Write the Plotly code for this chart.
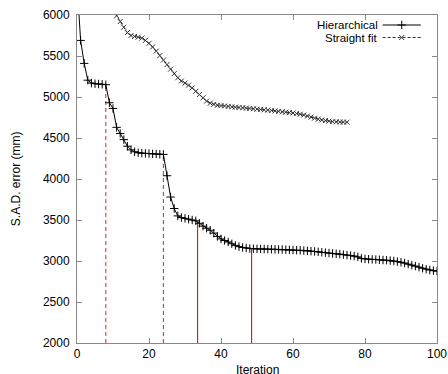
import plotly.graph_objects as go

# ---- data ----
hier_x = list(range(0, 101))
hier_y = [6400, 5690, 5410, 5205, 5170, 5162, 5158, 5155, 5150, 4930,
          4860, 4630, 4555, 4480, 4400, 4355, 4332, 4320, 4315, 4312,
          4310, 4307, 4305, 4302, 4300, 4040, 3780, 3640, 3550, 3530,
          3520, 3510, 3500, 3490, 3460, 3425, 3400, 3375, 3340, 3300,
          3270, 3250, 3232, 3210, 3190, 3175, 3165, 3158, 3152, 3150,
          3148, 3147, 3146, 3145, 3144, 3143, 3141, 3140, 3138, 3136,
          3134, 3132, 3130, 3127, 3124, 3120, 3116, 3112, 3107, 3102,
          3097, 3092, 3088, 3084, 3078, 3072, 3066, 3060, 3050, 3032,
          3025, 3022, 3020, 3018, 3015, 3012, 3010, 3005, 3000, 2992,
          2985, 2975, 2962, 2950, 2938, 2925, 2912, 2900, 2890, 2882,
          2877]

straight_x = list(range(10, 76))
straight_y = [6070, 5990, 5920, 5850, 5785, 5750, 5738, 5730, 5718, 5690,
              5655, 5610, 5560, 5505, 5450, 5395, 5340, 5285, 5235, 5195,
              5170, 5145, 5110, 5070, 5030, 4990, 4950, 4925, 4910, 4900,
              4895, 4890, 4885, 4880, 4876, 4872, 4868, 4864, 4860, 4856,
              4852, 4848, 4844, 4840, 4836, 4830, 4825, 4820, 4815, 4810,
              4805, 4798, 4790, 4780, 4768, 4755, 4742, 4730, 4720, 4712,
              4706, 4700, 4697, 4695, 4694, 4693]

# level-change markers (vertical lines from the axis floor up to the curve)
vline_x = [8, 24, 33.5, 48.5]
vline_top = [5150, 4300, 3485, 3150]
vline_dash = ["dash", "dash", "solid", "solid"]

x_ticks = [0, 20, 40, 60, 80, 100]
y_ticks = [2000, 2500, 3000, 3500, 4000, 4500, 5000, 5500, 6000]

series_names = ["Hierarchical", "Straight fit"]

FONT = "Liberation Sans, Arial, sans-serif"

fig = go.Figure()

# vertical red lines
for vx, vt, vd in zip(vline_x, vline_top, vline_dash):
    fig.add_trace(go.Scatter(
        x=[vx, vx], y=[y_ticks[0], vt], mode="lines",
        line=dict(color="#f03030" if vd == "dash" else "#c81818", width=1.1,
                  dash="4px,3px" if vd == "dash" else "solid"),
        showlegend=False, hoverinfo="skip"))

fig.add_trace(go.Scatter(
    x=hier_x, y=hier_y, mode="lines+markers", name=series_names[0],
    line=dict(color="black", width=1),
    marker=dict(symbol="cross-thin", size=6, line=dict(color="black", width=1)),
    showlegend=False, cliponaxis=True))

fig.add_trace(go.Scatter(
    x=straight_x, y=straight_y, mode="lines+markers", name=series_names[1],
    line=dict(color="#222222", width=1, dash="3px,2px"),
    marker=dict(symbol="x-thin", size=5, line=dict(color="#333333", width=1)),
    showlegend=False, cliponaxis=True))

# manual legend (text left, sample right, gnuplot style) on an overlay axis
leg_rows = [0.9695, 0.9314]
leg_x0, leg_x1 = 0.849, 0.955
fig.add_trace(go.Scatter(
    x=[leg_x0, leg_x1], y=[leg_rows[0]] * 2, mode="lines", xaxis="x2", yaxis="y2",
    line=dict(color="black", width=1), showlegend=False, hoverinfo="skip"))
fig.add_trace(go.Scatter(
    x=[(leg_x0 + leg_x1) / 2], y=[leg_rows[0]], mode="markers", xaxis="x2", yaxis="y2",
    marker=dict(symbol="cross-thin", size=6, line=dict(color="black", width=1)),
    showlegend=False, hoverinfo="skip"))
fig.add_trace(go.Scatter(
    x=[leg_x0, leg_x1], y=[leg_rows[1]] * 2, mode="lines", xaxis="x2", yaxis="y2",
    line=dict(color="#333333", width=1, dash="3px,2px"), showlegend=False, hoverinfo="skip"))
fig.add_trace(go.Scatter(
    x=[(leg_x0 + leg_x1) / 2], y=[leg_rows[1]], mode="markers", xaxis="x2", yaxis="y2",
    marker=dict(symbol="x-thin", size=5, line=dict(color="#333333", width=1)),
    showlegend=False, hoverinfo="skip"))

annotations = []
for name, ry in zip(series_names, leg_rows):
    annotations.append(dict(xref="paper", yref="paper", x=leg_x0 - 0.01, y=ry,
                            text=name, showarrow=False, xanchor="right", yanchor="middle",
                            borderpad=0,
                            font=dict(family=FONT, size=11.5, color="black")))
annotations.append(dict(xref="paper", yref="paper", x=0.5, y=-0.083, text="Iteration",
                        showarrow=False, xanchor="center", yanchor="middle",
                        font=dict(family=FONT, size=12, color="black")))
annotations.append(dict(xref="paper", yref="paper", x=-0.169, y=0.5, text="S.A.D. error (mm)",
                        textangle=-90, showarrow=False, xanchor="center", yanchor="middle",
                        font=dict(family=FONT, size=12, color="black")))

axis_common = dict(showgrid=False, zeroline=False, showline=True, linecolor="#888888",
                   linewidth=1, mirror="ticks", ticks="inside", ticklen=5, tickwidth=1,
                   tickcolor="#888888", tickfont=dict(family=FONT, size=12, color="black"),
                   automargin=False)

fig.update_layout(
    width=448, height=374, autosize=False,
    margin=dict(l=77, r=11, t=15, b=31),
    paper_bgcolor="white", plot_bgcolor="white",
    xaxis=dict(range=[0, 100], tickvals=x_ticks, **axis_common),
    yaxis=dict(range=[2000, 6000], tickvals=y_ticks, ticklabelstandoff=4, **axis_common),
    xaxis2=dict(range=[0, 1], overlaying="x", visible=False, fixedrange=True),
    yaxis2=dict(range=[0, 1], overlaying="y", visible=False, fixedrange=True),
    annotations=annotations,
    showlegend=False,
)

# remove the default 8px page margin so the figure fills the 448x374 window
fig.write_html("out.html",
               config={"responsive": False, "displayModeBar": False},
               post_script="document.body.style.margin='0px';"
                           "document.body.style.overflow='hidden';")
